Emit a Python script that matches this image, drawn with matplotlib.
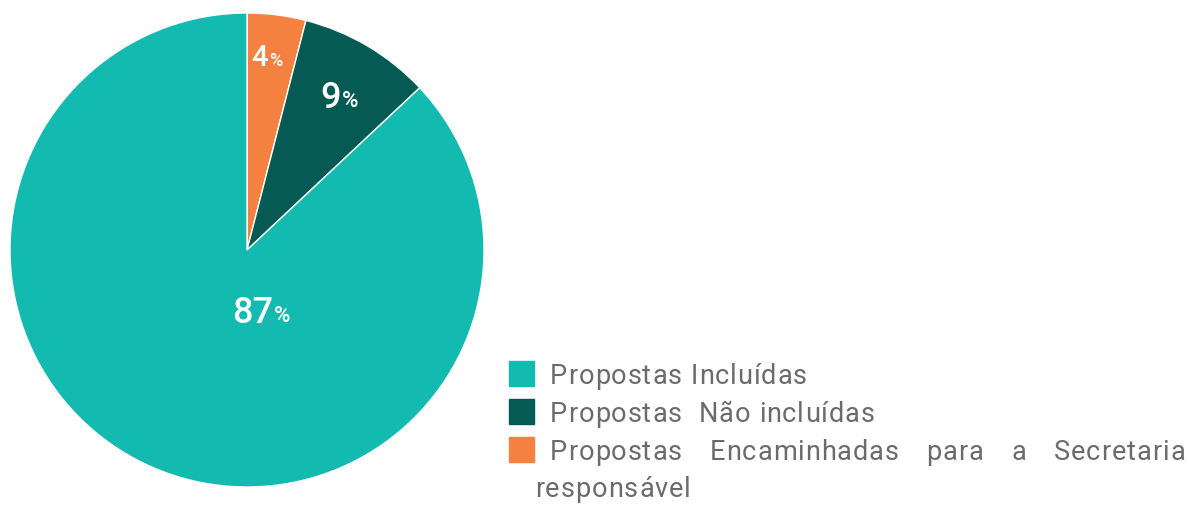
import matplotlib
matplotlib.use("Agg")
import matplotlib.pyplot as plt

# slices clockwise from the top
labels = ["Propostas Encaminhadas para a Secretaria responsável",
          "Propostas  Não incluídas",
          "Propostas Incluídas"]
values = [4, 9, 87]
colors = ["#F58140", "#055B53", "#12BAAF"]
pct_text = ["4", "9", "87"]

legend_order = [2, 1, 0]
text_color = "#6B6B6B"

plt.rcParams['font.family'] = ['Roboto', 'DejaVu Sans']

W, H = 1189, 507
fig = plt.figure(figsize=(W / 100, H / 100), dpi=100)

# pie axes: box in pixels (left, bottom, width, height)
ax = fig.add_axes([10 / W, 20 / H, 474 / W, 474 / H])
wedges, _ = ax.pie(values, colors=colors, startangle=90, counterclock=False,
                   radius=1, wedgeprops=dict(edgecolor="white", linewidth=1))
ax.set_xlim(-1, 1)
ax.set_ylim(-1, 1)
ax.set_aspect("equal")
ax.axis("off")

# percentage labels: anchor between number and % sign
label_pos = [(0.089, 0.81), (0.397, 0.641), (0.110, -0.266)]
sizes = [21, 26, 26]
for i in range(len(values)):
    x, y = label_pos[i]
    ax.text(x, y, pct_text[i], ha="right", va="center", color="white",
            fontsize=sizes[i], fontweight="medium")
    ax.text(x + 0.005, y - 0.014, "%", ha="left", va="center", color="white",
            fontsize=sizes[i] * 0.62, fontweight="medium")

fs = 19.5
track = 0.95
renderer = fig.canvas.get_renderer()


def char_width(c):
    t = fig.text(0, 0, c, fontsize=fs)
    w = t.get_window_extent(renderer).width
    if c == " ":
        t2 = fig.text(0, 0, "a a", fontsize=fs)
        t3 = fig.text(0, 0, "aa", fontsize=fs)
        w = t2.get_window_extent(renderer).width - t3.get_window_extent(renderer).width
        t2.remove()
        t3.remove()
    t.remove()
    return w


def word_width(s):
    return sum(char_width(c) + track for c in s) - track


def draw_tracked(x, ybase, s):
    # letter-spaced text, one glyph at a time
    for c in s:
        if c != " ":
            fig.text(x / W, ybase / H, c, ha="left", va="baseline", fontsize=fs,
                     color=text_color)
        x += char_width(c) + track


# legend, drawn by hand to keep the justified wrapped line
sq = 25
rows_top = [361, 399, 437]
for k, idx in enumerate(legend_order):
    top = rows_top[k]
    fig.patches.append(plt.Rectangle((509 / W, (H - top - sq) / H), sq / W, sq / H,
                                     transform=fig.transFigure, color=colors[idx],
                                     figure=fig))
    base = H - top - 23
    if idx != 0:
        draw_tracked(550, base, labels[idx])
    else:
        words = ["Propostas", "Encaminhadas", "para", "a", "Secretaria"]
        widths = [word_width(w) for w in words]
        gap = (1185 - 550 - sum(widths)) / (len(words) - 1)
        xpos = 550
        for w, wd in zip(words, widths):
            draw_tracked(xpos, base, w)
            xpos += wd + gap
        draw_tracked(535, H - 497, "responsável")

fig.savefig("out.png", dpi=100)
